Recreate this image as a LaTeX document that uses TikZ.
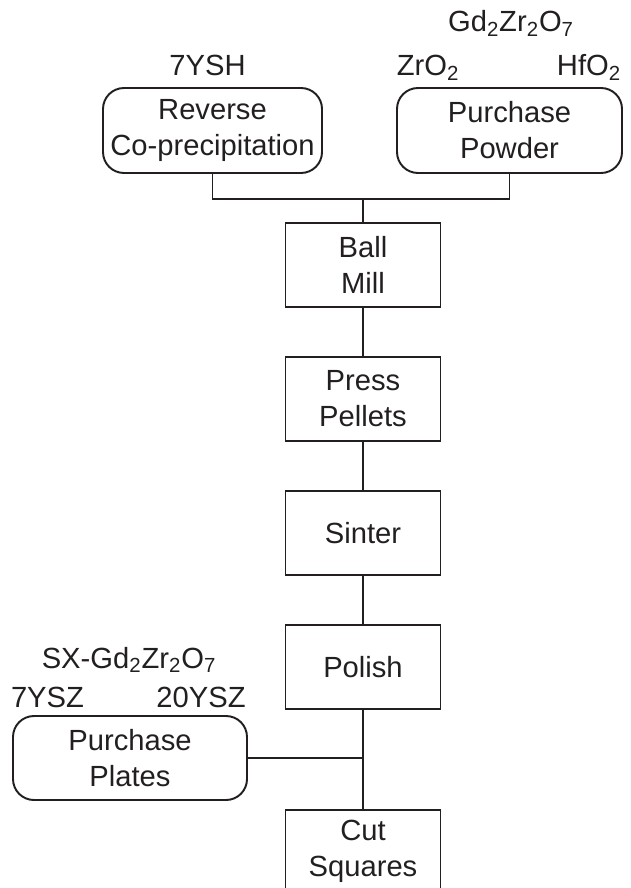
\documentclass[tikz,border=0pt]{standalone}
\usepackage{fontspec}
\setmainfont{Liberation Sans}
\usepackage{tikz}
\usetikzlibrary{positioning}
\definecolor{inkgray}{HTML}{231F20}

\begin{document}
\begin{tikzpicture}[
    every node/.style={text=inkgray, font=\fontsize{16.6}{20.5}\selectfont},
    stepbox/.style={draw=inkgray, line width=1.1pt, rectangle, minimum width=3.1cm,
                    minimum height=1.68cm, align=center, inner sep=0pt},
    srcbox/.style={draw=inkgray, line width=1.1pt, rectangle, rounded corners=0.42cm,
                   minimum height=1.7cm, align=center, inner sep=0pt},
    tag/.style={anchor=base, inner sep=0pt},
    link/.style={draw=inkgray, line width=1.1pt}
]
\useasboundingbox (0,0) rectangle (12.6,-17.76);

\node[stepbox] (mill) at (7.26,-5.30) {Ball\\Mill};
\node[stepbox, below=0.96cm of mill] (press) {Press\\Pellets};
\node[stepbox, below=0.96cm of press] (sinter) {Sinter};
\node[stepbox, below=0.96cm of sinter] (polish) {Polish};
\node[stepbox, below=1.98cm of polish] (cut) {Cut\\Squares};

\node[srcbox, minimum width=4.38cm] (coprec) at (4.25,-2.61) {Reverse\\Co-precipitation};
\node[srcbox, minimum width=4.5cm] (powder) at (10.19,-2.61) {Purchase\\Powder};
\node[srcbox, minimum width=4.68cm, minimum height=1.68cm] (plates) at (2.6,-15.16) {Purchase\\Plates};

% material labels
\node[tag] (ysh) at (4.15,-1.52) {7YSH};
\node[tag] (gzo) at (10.22,-0.64) {Gd\textsubscript{2}Zr\textsubscript{2}O\textsubscript{7}};
\node[tag] (zro) at (8.56,-1.52) {ZrO\textsubscript{2}};
\node[tag] (hfo) at (11.78,-1.52) {HfO\textsubscript{2}};
\node[tag] (sxgzo) at (2.58,-13.36) {SX-Gd\textsubscript{2}Zr\textsubscript{2}O\textsubscript{7}};
\node[tag] (ysz7) at (0.95,-14.14) {7YSZ};
\node[tag] (ysz20) at (4.02,-14.14) {20YSZ};

\coordinate (join) at (7.26,-3.98);
\coordinate (merge) at (plates.east -| polish.south);

\draw[link] (coprec.south) |- (join) -| (powder.south);
\draw[link] (join) -- (mill.north);
\draw[link] (mill) -- (press);
\draw[link] (press) -- (sinter);
\draw[link] (sinter) -- (polish);
\draw[link] (polish) -- (cut);
\draw[link] (plates.east) -- (merge);

\end{tikzpicture}
\end{document}
